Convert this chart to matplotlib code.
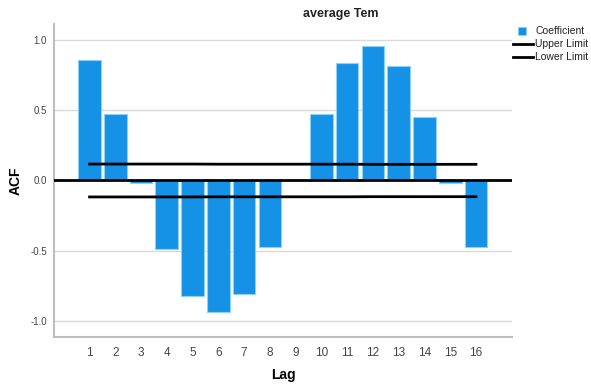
import matplotlib.pyplot as plt
from matplotlib.lines import Line2D
from matplotlib.patches import Rectangle

# ACF values
lags = list(range(1, 17))
coef = [0.855, 0.475, -0.02, -0.485, -0.82, -0.935, -0.81, -0.47,
        0.003, 0.475, 0.835, 0.96, 0.815, 0.455, -0.02, -0.47]
upper = [0.117, 0.117, 0.117, 0.117, 0.117, 0.116, 0.116, 0.116,
         0.116, 0.116, 0.116, 0.115, 0.115, 0.115, 0.115, 0.115]
lower = [-0.117, -0.117, -0.117, -0.117, -0.117, -0.116, -0.116, -0.116,
         -0.116, -0.116, -0.116, -0.115, -0.115, -0.115, -0.115, -0.115]
yticks = [-1.0, -0.5, 0.0, 0.5, 1.0]
legend_labels = ['Coefficient', 'Upper Limit', 'Lower Limit']

plt.rcParams['font.family'] = ['Liberation Sans', 'DejaVu Sans']
W, H = 591, 385

fig = plt.figure(figsize=(5.91, 3.85), dpi=100)
ax = fig.add_axes([54/W, 1-337/H, 458/W, 313/H])

for y in [-1.0, -0.5, 0.5, 1.0]:
    ax.axhline(y, color='#d9d9d9', lw=1.0, zorder=0)

ax.bar(lags, coef, width=0.88, color='#1591e6', edgecolor='#8fd0f7', linewidth=0.8, zorder=2)
ax.axhline(0, color='black', lw=2.0, zorder=3)
ax.plot(lags, upper, color='black', lw=2.0, zorder=4)
ax.plot(lags, lower, color='black', lw=2.0, zorder=4)

ax.set_xlim(-0.38, 17.4)
ax.set_ylim(-1.113, 1.113)
ax.set_xticks(lags)
ax.set_xticklabels([str(l) for l in lags], fontsize=8.5, color='#444444')
ax.set_yticks(yticks)
ax.set_yticklabels(['%.1f' % v for v in yticks], fontsize=7, color='#444444')
ax.tick_params(length=0, axis='x', pad=7)
ax.tick_params(length=0, axis='y', pad=5)

for s in ['top', 'right']:
    ax.spines[s].set_visible(False)
for s in ['left', 'bottom']:
    ax.spines[s].set_color('#bdbdbd')
    ax.spines[s].set_linewidth(1.5)

# axis titles and chart title
fig.text(283/W, 1-375/H, 'Lag', ha='center', va='center', fontsize=10, fontweight='bold')
fig.text(16/W, 1-181/H, 'ACF', ha='center', va='center', rotation=90,
         fontsize=10, fontweight='bold')
fig.text(340.5/W, 1-14/H, 'average Tem', ha='center', va='center',
         fontsize=9, fontweight='bold', color='#222222')

# legend drawn by hand to match the SPSS layout
rows = [31, 44, 57]
fig.add_artist(Rectangle((518/W, 1-35/H), 8/W, 8/H, transform=fig.transFigure,
                         facecolor='#1591e6', edgecolor='#8fd0f7', lw=0.6))
for yy in rows[1:]:
    fig.add_artist(Line2D([513/W, 533/W], [1-yy/H, 1-yy/H], transform=fig.transFigure,
                          color='black', lw=2.0))
for yy, lab in zip(rows, legend_labels):
    fig.text(535/W, 1-yy/H, lab, ha='left', va='center', fontsize=7.5, color='#222222')

fig.savefig('out.png', dpi=100)
